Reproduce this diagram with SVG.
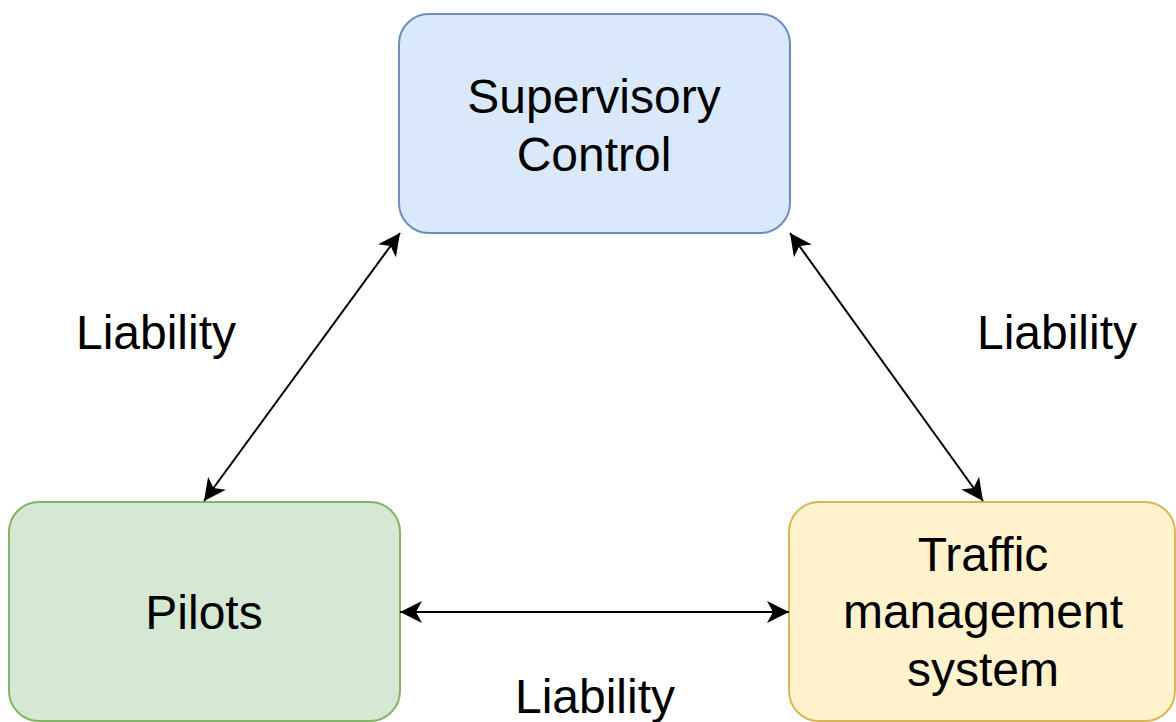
<svg xmlns="http://www.w3.org/2000/svg" width="1176" height="722" viewBox="0 0 1176 722">
  <style>
    .label { font-family: "Liberation Sans", Arial, Helvetica, sans-serif; font-size: 48px; fill: #000; text-anchor: middle; }
    .box { stroke-width: 2; }
    .blue { fill: #dae8fc; stroke: #6c8ebf; }
    .green { fill: #d5e8d4; stroke: #82b366; }
    .yellow { fill: #fff2cc; stroke: #d6b656; }
    .link { stroke: #000; stroke-width: 2; fill: none; marker-start: url(#arrow); marker-end: url(#arrow); }
  </style>
  <defs>
    <marker id="arrow" viewBox="0 0 22 22" refX="22" refY="11" markerWidth="22" markerHeight="22" markerUnits="userSpaceOnUse" orient="auto-start-reverse">
      <path d="M0,0 L22,11 L0,22 L6,11 z" fill="#000"/>
    </marker>
  </defs>
  <rect width="1176" height="722" fill="#fff"/>

  <g id="supervisory-control">
    <rect class="box blue" x="399" y="14" width="391" height="219" rx="30" ry="30"/>
    <text class="label" x="594" y="113">Supervisory</text>
    <text class="label" x="594" y="171">Control</text>
  </g>

  <g id="pilots">
    <rect class="box green" x="9" y="502" width="391" height="219" rx="30" ry="30"/>
    <text class="label" x="204" y="629">Pilots</text>
  </g>

  <g id="traffic-management">
    <rect class="box yellow" x="789" y="502" width="386" height="219" rx="30" ry="30"/>
    <text class="label" x="983" y="571">Traffic</text>
    <text class="label" x="983" y="628">management</text>
    <text class="label" x="983" y="686">system</text>
  </g>

  <g id="connectors">
    <line class="link" x1="400" y1="233" x2="204" y2="501"/>
    <line class="link" x1="790" y1="233" x2="983" y2="501"/>
    <line class="link" x1="400" y1="612" x2="789" y2="612"/>
    <text class="label" x="156" y="349">Liability</text>
    <text class="label" x="1057" y="349">Liability</text>
    <text class="label" x="595" y="713">Liability</text>
  </g>
</svg>
